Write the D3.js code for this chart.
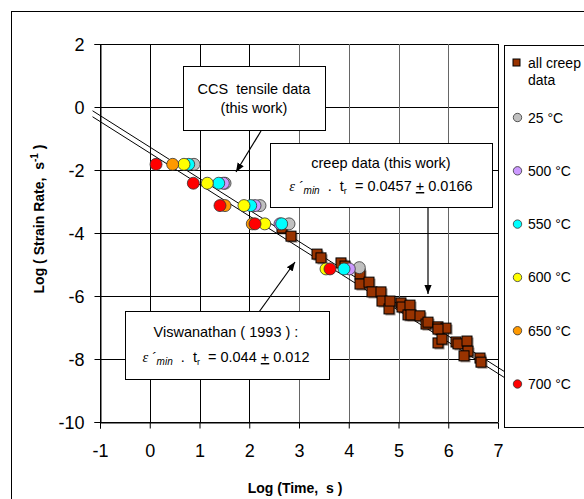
<!DOCTYPE html>
<html><head><meta charset="utf-8">
<script src="https://cdn.jsdelivr.net/npm/d3@7"></script>
<style>
body{margin:0;background:#fff;}
svg text{font-family:Arial,"Liberation Sans",sans-serif;white-space:pre;}
</style></head>
<body><svg id="c" width="584" height="499"></svg>
<script>
// ---- data ----
const xTicks = [-1,0,1,2,3,4,5,6,7];
const yTicks = [-10,-8,-6,-4,-2,0,2];
const creepX = [2.658,2.839,3.362,3.442,3.844,3.925,4.226,4.226,4.407,4.467,4.648,4.668,4.809,4.829,5.050,5.070,5.191,5.231,5.251,5.432,5.553,5.593,5.794,5.955,5.794,5.794,5.874,6.156,6.196,6.377,6.397,6.317,6.638,6.658];
const creepY = [-3.84,-4.10,-4.67,-4.79,-4.95,-5.05,-5.30,-5.62,-5.56,-5.87,-5.87,-6.16,-6.41,-6.16,-6.22,-6.35,-6.60,-6.29,-6.60,-6.63,-6.89,-6.83,-6.98,-7.02,-7.05,-7.49,-7.37,-7.46,-7.52,-7.43,-7.75,-7.90,-7.97,-8.10];
const t25X  = [0.889,1.513,2.216,2.799,4.212];
const t25Y  = [-1.82,-2.42,-3.13,-3.71,-5.10];
const t500X = [1.479,2.116,2.618,4.011];
const t500Y = [-2.42,-3.13,-3.71,-5.14];
const t550X = [0.783,1.386,2.029,2.652,3.905];
const t550Y = [-1.82,-2.42,-3.13,-3.71,-5.14];
const t600X = [0.688,1.157,1.894,2.311,3.543];
const t600Y = [-1.82,-2.42,-3.13,-3.71,-5.14];
const t650X = [0.461,1.513,2.061];
const t650Y = [-1.82,-3.13,-3.71];
const t700X = [0.126,0.876,1.412,2.116,3.623];
const t700Y = [-1.82,-2.42,-3.13,-3.71,-5.14];
const seriesNames = ["25 °C","500 °C","550 °C","600 °C","650 °C","700 °C"];
const seriesColors = ["#C0C0C0","#CC99FF","#00FFFF","#FFFF00","#FF9900","#FF0000"];
const lineIntercepts = [-1.27,-1.46];   // log(rate) = b - log(t)
const lineXRange = [-1.15,7.15];

// ---- drawing ----
const svg = d3.select("#c");
const x = d3.scaleLinear().domain([-1,7]).range([100,498]);
const y = d3.scaleLinear().domain([-10,2]).range([422,44]);

svg.append("rect").attr("x",11.5).attr("y",11.5).attr("width",620).attr("height",620)
  .attr("fill","#fff").attr("stroke","#000");

const defs = svg.append("defs");
defs.append("marker").attr("id","ah").attr("viewBox","0 0 10 10").attr("refX",10).attr("refY",5)
  .attr("markerWidth",9).attr("markerHeight",9).attr("markerUnits","userSpaceOnUse").attr("orient","auto")
  .append("path").attr("d","M0,1 L10,5 L0,9 Z").attr("fill","#000");

// grid
const g = svg.append("g").attr("shape-rendering","crispEdges");
g.selectAll(".hg").data(yTicks).enter().append("line")
  .attr("x1",x(-1)).attr("x2",x(7)).attr("y1",d=>Math.round(y(d))+0.5).attr("y2",d=>Math.round(y(d))+0.5)
  .attr("stroke","#000");
g.selectAll(".vg").data(xTicks).enter().append("line")
  .attr("y1",y(2)).attr("y2",y(-10)).attr("x1",d=>Math.round(x(d))+0.5).attr("x2",d=>Math.round(x(d))+0.5)
  .attr("stroke",d=>(d<=2||d===7)?"#000":"#666");

// axes
const fmt = d=>String(d);
const ax = svg.append("g").attr("transform",`translate(0,${Math.round(y(-10))+0.5})`)
  .call(d3.axisBottom(x).tickValues(xTicks).tickSize(6).tickPadding(16).tickFormat(fmt));
const ay = svg.append("g").attr("transform",`translate(${Math.round(x(-1))+0.5},0)`)
  .call(d3.axisLeft(y).tickValues(yTicks).tickSize(6).tickPadding(10).tickFormat(fmt));
[ax,ay].forEach(a=>{
  a.select(".domain").attr("stroke","#000");
  a.selectAll("text").attr("font-size",18).attr("fill","#000").attr("font-family","Arial, 'Liberation Sans', sans-serif");
  a.selectAll("line").attr("stroke","#000");
});
ay.selectAll("text").attr("dy","0.35em");

// fit lines
const lineGen = d3.line().x(d=>x(d[0])).y(d=>y(d[1]));
svg.append("g").selectAll("path").data(lineIntercepts).enter().append("path")
  .attr("d",b=>lineGen(lineXRange.map(v=>[v,b-v])))
  .attr("stroke","#000").attr("stroke-width",1).attr("fill","none");

// creep squares
const sq = 10;
const creep = creepX.map((v,i)=>[v,creepY[i]]);
svg.append("g").selectAll("rect").data(creep).enter().append("rect")
  .attr("x",d=>x(d[0])-sq/2+1.5).attr("y",d=>y(d[1])-sq/2+1.5).attr("width",sq).attr("height",sq)
  .attr("fill","#3a1a0a").attr("opacity",0.5);
svg.append("g").selectAll("rect").data(creep).enter().append("rect")
  .attr("x",d=>x(d[0])-sq/2).attr("y",d=>y(d[1])-sq/2).attr("width",sq).attr("height",sq)
  .attr("fill","#993300").attr("stroke","#000").attr("stroke-width",1);

// temperature circles
const sx = [t25X,t500X,t550X,t600X,t650X,t700X];
const sy = [t25Y,t500Y,t550Y,t600Y,t650Y,t700Y];
sx.forEach((xs,k)=>{
  svg.append("g").selectAll("circle").data(xs.map((v,i)=>[v,sy[k][i]])).enter().append("circle")
    .attr("cx",d=>x(d[0])).attr("cy",d=>y(d[1])).attr("r",6)
    .attr("fill",seriesColors[k]).attr("stroke","#333").attr("stroke-width",0.8);
});

// annotation boxes
function box(x0,y0,w,h){
  svg.append("rect").attr("x",x0+0.5).attr("y",y0+0.5).attr("width",w).attr("height",h)
    .attr("fill","#fff").attr("stroke","#000").attr("shape-rendering","crispEdges");
}
function arrow(x1,y1,x2,y2){
  svg.append("line").attr("x1",x1).attr("y1",y1).attr("x2",x2).attr("y2",y2)
    .attr("stroke","#000").attr("stroke-width",1.2).attr("marker-end","url(#ah)");
}
function plain(tx,ty,s){
  svg.append("text").attr("x",tx).attr("y",ty).attr("text-anchor","middle").attr("font-size",14.5).text(s);
}
function formula(tx,ty,val){
  const t = svg.append("text").attr("x",tx).attr("y",ty).attr("text-anchor","middle").attr("font-size",14.5);
  t.append("tspan").attr("font-family","'Liberation Serif','DejaVu Serif',serif").attr("font-style","italic").text("ε");
  t.append("tspan").attr("font-family","'Liberation Serif',serif").text(" ´");
  t.append("tspan").attr("font-style","italic").attr("font-size",10).attr("dy",3).text("min");
  t.append("tspan").attr("dy",-3).text("  .  t");
  t.append("tspan").attr("font-size",9).attr("dy",3).text("r");
  t.append("tspan").attr("dy",-3).text("  = "+val[0]+" ");
  t.append("tspan").attr("text-decoration","underline").text("+");
  t.append("tspan").text(" "+val[1]);
}

arrow(261,131,236,172);
box(183,66,142,64);
plain(254,94,"CCS  tensile data");
plain(254,113,"(this work)");

arrow(428,207,428,294);
box(270,143,222,64);
plain(381,168,"creep data (this work)");
formula(381,191,["0.0457","0.0166"]);

arrow(259,312,295,262);
box(125,311,204,68);
plain(226,337,"Viswanathan ( 1993 ) :");
formula(226,362,["0.044","0.012"]);

// axis titles
svg.append("text").attr("x",295).attr("y",493).attr("text-anchor","middle")
  .attr("font-size",14).attr("font-weight","bold").text("Log (Time,  s )");
const yt = svg.append("text").attr("transform","translate(44,219) rotate(-90)").attr("text-anchor","middle")
  .attr("font-size",14).attr("font-weight","bold");
yt.append("tspan").text("Log ( Strain Rate,  s");
yt.append("tspan").attr("font-size",10).attr("dy",-6).text("-1");
yt.append("tspan").attr("dy",6).text(" )");

// legend
box(504,45,120,382);
const lg = svg.append("g");
lg.append("rect").attr("x",513).attr("y",59).attr("width",7).attr("height",7)
  .attr("fill","#993300").attr("stroke","#000").attr("stroke-width",1);
lg.append("text").attr("x",528).attr("y",68).attr("font-size",14).text("all creep");
lg.append("text").attr("x",528).attr("y",85).attr("font-size",14).text("data");
const ly = d3.scaleLinear().domain([0,5]).range([117.5,384]);
seriesNames.forEach((n,i)=>{
  lg.append("circle").attr("cx",517.5).attr("cy",ly(i)).attr("r",4.2)
    .attr("fill",seriesColors[i]).attr("stroke","#333").attr("stroke-width",0.8);
  lg.append("text").attr("x",528).attr("y",ly(i)+5).attr("font-size",14).text(n);
});
</script></body></html>
